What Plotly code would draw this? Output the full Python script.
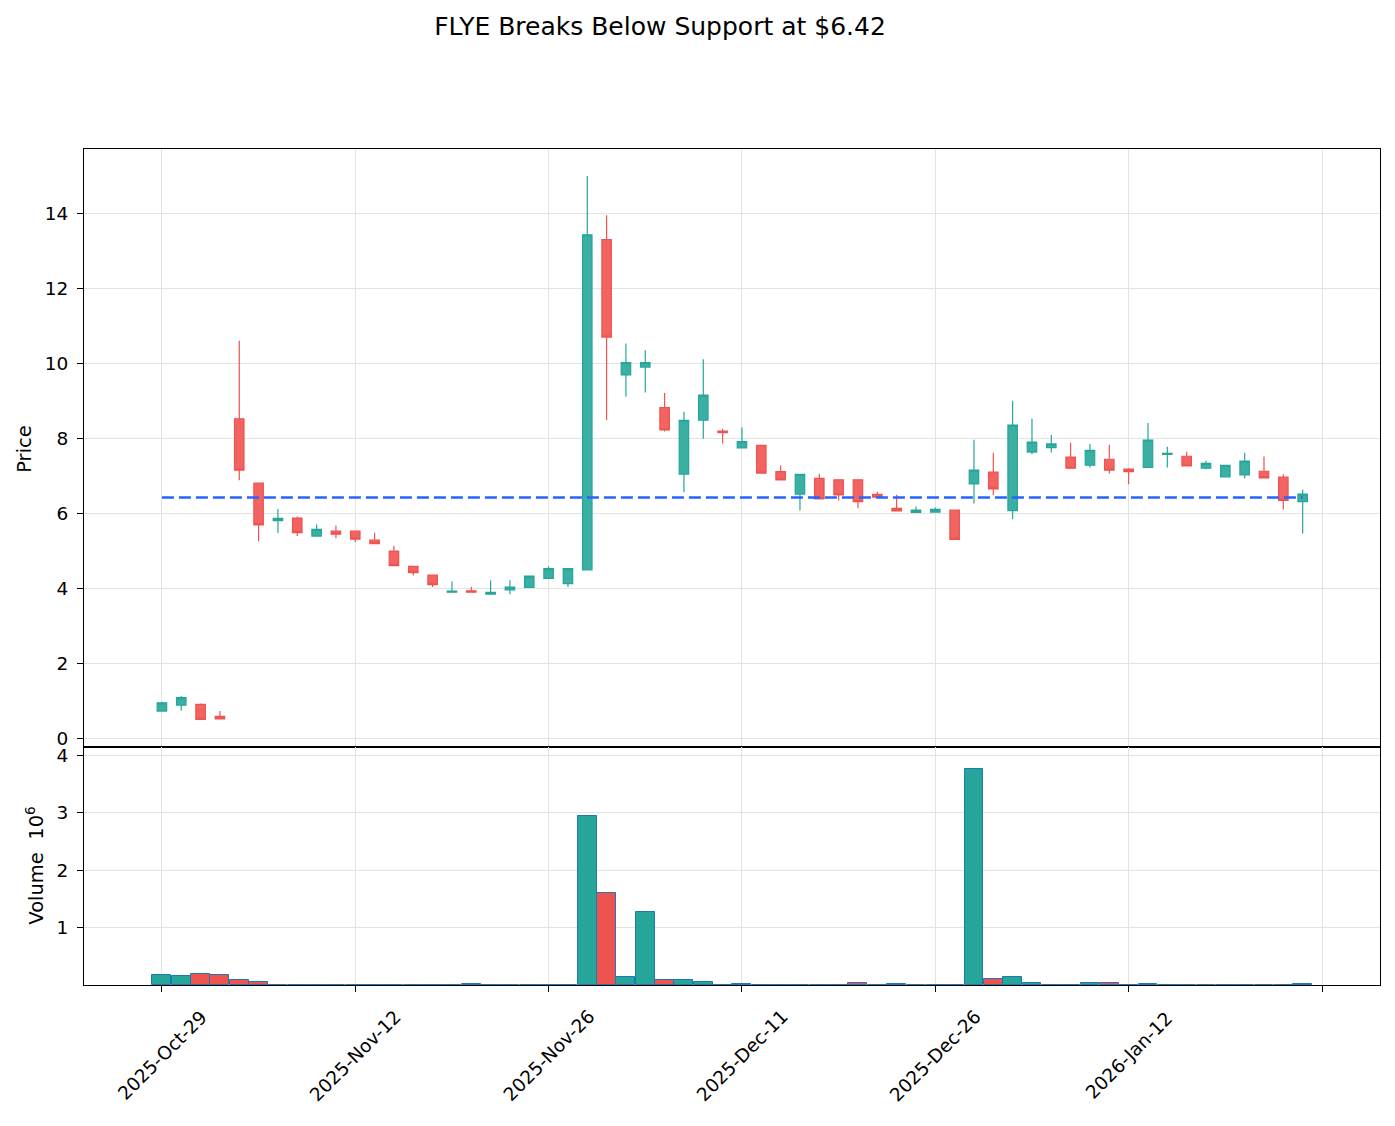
import plotly.graph_objects as go

# ---------------- data ----------------
dates = ["2025-10-29", "2025-10-30", "2025-10-31", "2025-11-03", "2025-11-04", "2025-11-05",
         "2025-11-06", "2025-11-07", "2025-11-10", "2025-11-11", "2025-11-12", "2025-11-13",
         "2025-11-14", "2025-11-17", "2025-11-18", "2025-11-19", "2025-11-20", "2025-11-21",
         "2025-11-24", "2025-11-25", "2025-11-26", "2025-11-28", "2025-12-01", "2025-12-02",
         "2025-12-03", "2025-12-04", "2025-12-05", "2025-12-08", "2025-12-09", "2025-12-10",
         "2025-12-11", "2025-12-12", "2025-12-15", "2025-12-16", "2025-12-17", "2025-12-18",
         "2025-12-19", "2025-12-22", "2025-12-23", "2025-12-24", "2025-12-26", "2025-12-29",
         "2025-12-30", "2025-12-31", "2026-01-02", "2026-01-05", "2026-01-06", "2026-01-07",
         "2026-01-08", "2026-01-09", "2026-01-12", "2026-01-13", "2026-01-14", "2026-01-15",
         "2026-01-16", "2026-01-20", "2026-01-21", "2026-01-22", "2026-01-23", "2026-01-26"]

opens = [0.72, 0.88, 0.90, 0.58, 8.52, 6.80, 5.80, 5.87, 5.39, 5.52,
         5.52, 5.28, 4.99, 4.58, 4.35, 3.89, 3.93, 3.84, 3.95, 4.02,
         4.26, 4.12, 4.49, 13.30, 9.69, 9.90, 8.82, 7.04, 8.48, 8.19,
         7.74, 7.81, 7.11, 6.51, 6.93, 6.89, 6.89, 6.50, 6.13, 6.02,
         6.03, 6.08, 6.78, 7.10, 6.07, 7.63, 7.75, 7.50, 7.28, 7.44,
         7.18, 7.22, 7.57, 7.52, 7.20, 6.97, 7.02, 7.12, 6.96, 6.31]
highs = [0.97, 1.12, 0.92, 0.72, 10.60, 6.81, 6.11, 5.91, 5.70, 5.67,
         5.53, 5.48, 5.13, 4.59, 4.36, 4.18, 4.04, 4.21, 4.21, 4.33,
         4.58, 4.53, 15.00, 13.95, 10.53, 10.35, 9.21, 8.71, 10.11, 8.25,
         8.29, 7.82, 7.27, 7.05, 7.05, 6.90, 6.90, 6.57, 6.49, 6.18,
         6.15, 6.09, 7.96, 7.61, 9.00, 8.52, 8.09, 7.88, 7.85, 7.83,
         7.20, 8.41, 7.77, 7.64, 7.40, 7.29, 7.61, 7.51, 7.04, 6.63]
lows = [0.70, 0.73, 0.49, 0.50, 6.88, 5.25, 5.47, 5.39, 5.38, 5.33,
        5.23, 5.18, 4.59, 4.34, 4.03, 3.89, 3.88, 3.83, 3.84, 4.01,
        4.25, 4.03, 4.48, 8.48, 9.11, 9.22, 8.18, 6.56, 7.99, 7.86,
        7.73, 7.06, 6.88, 6.07, 6.37, 6.34, 6.13, 6.42, 6.05, 6.01,
        6.02, 5.29, 6.26, 6.48, 5.84, 7.57, 7.62, 7.19, 7.22, 7.06,
        6.77, 7.21, 7.22, 7.25, 7.17, 6.96, 6.93, 6.93, 6.10, 5.46]
closes = [0.94, 1.08, 0.50, 0.51, 7.15, 5.69, 5.86, 5.48, 5.57, 5.44,
          5.31, 5.19, 4.60, 4.41, 4.09, 3.92, 3.89, 3.89, 4.03, 4.32,
          4.52, 4.52, 13.43, 10.70, 10.02, 10.02, 8.22, 8.48, 9.15, 8.15,
          7.91, 7.07, 6.89, 7.04, 6.38, 6.49, 6.31, 6.43, 6.06, 6.08,
          6.10, 5.30, 7.15, 6.65, 8.35, 7.90, 7.85, 7.20, 7.68, 7.15,
          7.11, 7.95, 7.60, 7.26, 7.33, 7.28, 7.39, 6.94, 6.34, 6.51]
volumes = [178000, 161000, 195000, 178000, 92000, 57000, 6000, 6000, 6000, 6000,
           6000, 6000, 6000, 6000, 6000, 6000, 29000, 8000, 6000, 4000,
           6000, 4000, 2940000, 1610000, 144000, 1280000, 92000, 92000, 57000, 8000,
           29000, 6000, 6000, 6000, 6000, 6000, 46000, 8000, 29000, 6000,
           6000, 8000, 3750000, 110000, 150000, 40000, 8000, 8000, 46000, 46000,
           6000, 30000, 6000, 6000, 6000, 6000, 6000, 6000, 6000, 30000]

support_level = 6.42
tick_positions = [0, 10, 20, 30, 40, 50, 60]
tick_labels = ["2025-Oct-29", "2025-Nov-12", "2025-Nov-26", "2025-Dec-11",
               "2025-Dec-26", "2026-Jan-12", ""]
title_text = "FLYE Breaks Below Support at $6.42"

# ---------------- figure ----------------
UP, DOWN = "#26a69a", "#ef5350"
idx = list(range(len(dates)))
vol_m = [v / 1e6 for v in volumes]
vol_colors = [UP if c >= o else DOWN for o, c in zip(opens, closes)]

fig = go.Figure()
fig.add_trace(go.Candlestick(
    x=idx, open=opens, high=highs, low=lows, close=closes,
    increasing=dict(line=dict(color=UP, width=1.2), fillcolor="rgba(38,166,154,0.9)"),
    decreasing=dict(line=dict(color=DOWN, width=1.2), fillcolor="rgba(239,83,80,0.9)"),
    whiskerwidth=0, xaxis="x", yaxis="y", showlegend=False, hoverinfo="skip"))

fig.add_trace(go.Scatter(
    x=[idx[0], idx[-1]], y=[support_level, support_level], mode="lines",
    line=dict(color="#2962FF", width=2.5, dash="12px,5px"),
    xaxis="x", yaxis="y", showlegend=False, hoverinfo="skip"))

fig.add_trace(go.Bar(
    x=idx, y=vol_m, width=0.98, marker=dict(color=vol_colors, line=dict(color="#1f77b4", width=1)),
    xaxis="x2", yaxis="y2", showlegend=False, hoverinfo="skip"))

FONT = "DejaVu Sans"
GRID = "#e3e3e3"
TICK_SIZE = 18.5
LABEL_SIZE = 19.5
xr = [-4.03, 63.0]
xdom = [84 / 1395, 1380 / 1395]

common_x = dict(range=xr, domain=xdom, tickmode="array", tickvals=tick_positions,
                showgrid=True, gridcolor=GRID, gridwidth=1, zeroline=False,
                showline=True, linecolor="black", linewidth=1, mirror=True)

common_y = dict(showgrid=True, gridcolor=GRID, zeroline=False,
                showline=True, linecolor="black", linewidth=1, mirror=True,
                ticks="outside", ticklen=6, tickcolor="black",
                tickfont=dict(size=TICK_SIZE), ticklabelstandoff=5)

annotations = [
    dict(text="Price", x=25 / 1395, y=1 - 448 / 1126, xref="paper", yref="paper",
         textangle=-90, showarrow=False, font=dict(family=FONT, size=LABEL_SIZE, color="black"),
         xanchor="center", yanchor="middle"),
    dict(text="Volume  10<sup>6</sup>", x=35 / 1395, y=1 - 866 / 1126, xref="paper", yref="paper",
         textangle=-90, showarrow=False, font=dict(family=FONT, size=LABEL_SIZE, color="black"),
         xanchor="center", yanchor="middle"),
]
for pos, lab in zip(tick_positions, tick_labels):
    if lab:
        annotations.append(dict(text=lab, x=pos, xref="x2", y=1 - 1056 / 1126, yref="paper",
                                textangle=-45, showarrow=False,
                                font=dict(family=FONT, size=TICK_SIZE, color="black"),
                                xanchor="center", yanchor="middle"))

fig.update_layout(
    width=1395, height=1126,
    margin=dict(l=0, r=0, t=0, b=0),
    paper_bgcolor="white", plot_bgcolor="white",
    font=dict(family=FONT, size=TICK_SIZE, color="black"),
    title=dict(text=title_text, x=660 / 1395, xanchor="center", y=1 - 26 / 1126, yanchor="middle",
               font=dict(family=FONT, size=25, color="black")),
    xaxis=dict(**common_x, anchor="y", showticklabels=False, ticks="",
               rangeslider=dict(visible=False)),
    yaxis=dict(**common_y, domain=[1 - 747 / 1126, 1 - 147 / 1126], range=[-0.24, 15.73],
               tickmode="array", tickvals=[0, 2, 4, 6, 8, 10, 12, 14], anchor="x"),
    xaxis2=dict(**common_x, anchor="y2", showticklabels=False,
                ticks="outside", ticklen=6, tickcolor="black", matches="x"),
    yaxis2=dict(**common_y, domain=[1 - 986 / 1126, 1 - 747 / 1126], range=[0, 4.14],
                tickmode="array", tickvals=[1, 2, 3, 4], anchor="x2"),
    bargap=0,
    annotations=annotations,
)

fig.write_html("out.html")
